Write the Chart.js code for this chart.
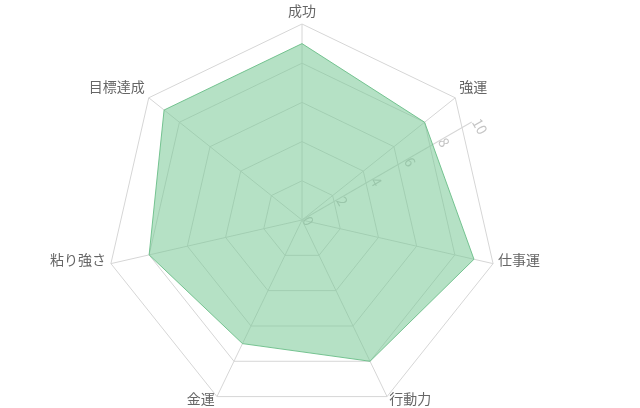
<!DOCTYPE html>
<html lang="ja">
<head>
<meta charset="UTF-8">
<title>レーダーチャート</title>
<script src="https://cdn.jsdelivr.net/npm/chart.js@4.4.0/dist/chart.umd.min.js"></script>
<style>
  html, body { margin: 0; padding: 0; background: #fff; overflow: hidden; }
  /* the web runs a little below the window edge, as in the original */
  #wrap { position: relative; width: 640px; height: 440px; }
</style>
</head>
<body>
<div id="wrap"><canvas id="myChart"></canvas></div>
<script>
// chart data
const categories = ['成功', '強運', '仕事運', '行動力', '金運', '粘り強さ', '目標達成'];
const scores = [9, 8, 9, 8, 7, 8, 9];
const tickValues = [0, 2, 4, 6, 8, 10];

const FONT = '"Noto Sans CJK JP", "Noto Sans", sans-serif';
const TICK_ANGLE = 60; // degrees clockwise from the top spoke

// tick axis drawn at an angle, under the filled area
const tickAxisPlugin = {
    id: 'tickAxis',
    beforeDatasetsDraw(chart) {
        const scale = chart.scales.r;
        const ctx = chart.ctx;
        ctx.save();
        ctx.translate(scale.xCenter, scale.yCenter);
        ctx.rotate(TICK_ANGLE * Math.PI / 180);
        ctx.strokeStyle = '#d6d6d6';
        ctx.lineWidth = 1;
        ctx.beginPath();
        ctx.moveTo(0, 0);
        ctx.lineTo(0, -scale.drawingArea);
        ctx.stroke();
        ctx.font = '14px ' + FONT;
        ctx.fillStyle = '#c4c4c4';
        ctx.textAlign = 'left';
        ctx.textBaseline = 'middle';
        scale.ticks.forEach(tick => {
            const d = scale.getDistanceFromCenterForValue(tick.value);
            ctx.fillText(String(tick.value), 0, -d - 5);
        });
        ctx.restore();
    }
};

// category labels around the web
const pointLabelPlugin = {
    id: 'categoryLabels',
    afterDraw(chart) {
        const scale = chart.scales.r;
        const ctx = chart.ctx;
        ctx.save();
        ctx.font = '14px ' + FONT;
        ctx.fillStyle = '#666';
        ctx.textBaseline = 'middle';
        categories.forEach((label, i) => {
            const deg = i * 360 / categories.length;
            const p = scale.getPointPosition(i, scale.drawingArea + 5);
            ctx.textAlign = (deg === 0 || deg === 180) ? 'center' : (deg < 180 ? 'left' : 'right');
            let dy;
            if (deg < 90 || deg > 270) dy = -8;
            else if (deg < 135 || deg > 225) dy = -5;
            else dy = -2.5;
            ctx.fillText(label, p.x, p.y + dy);
        });
        ctx.restore();
    }
};

const ctx = document.getElementById('myChart').getContext('2d');
new Chart(ctx, {
    type: 'radar',
    data: {
        labels: categories,
        datasets: [{
            data: scores,
            fill: true,
            backgroundColor: 'rgba(120, 200, 150, 0.55)',
            borderColor: 'rgba(105, 190, 135, 0.9)',
            borderWidth: 1,
            pointRadius: 0,
            pointHoverRadius: 0
        }]
    },
    options: {
        responsive: true,
        maintainAspectRatio: false,
        animation: false,
        layout: {
            padding: { left: 106, right: 142, top: 0, bottom: 0 }
        },
        plugins: {
            legend: { display: false },
            tooltip: { enabled: false }
        },
        scales: {
            r: {
                min: tickValues[0],
                max: tickValues[tickValues.length - 1],
                afterBuildTicks: scale => {
                    scale.ticks = tickValues.map(v => ({ value: v }));
                },
                ticks: { display: false },
                grid: { color: '#d6d6d6', lineWidth: 1 },
                angleLines: { color: '#d6d6d6', lineWidth: 1 },
                pointLabels: { display: false }
            }
        }
    },
    plugins: [tickAxisPlugin, pointLabelPlugin]
});
</script>
</body>
</html>
